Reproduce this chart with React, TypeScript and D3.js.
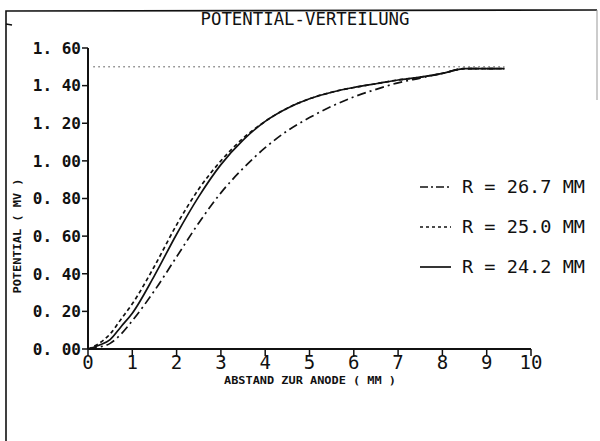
import React from "react";
import * as d3 from "d3";

// abscissa (mm) and potential values (mV)
const distance = [0, 0.25, 0.5, 0.75, 1, 1.5, 2, 2.5, 3, 3.5, 4, 4.5, 5, 5.5, 6, 6.5, 7, 7.5, 8, 8.5, 9, 9.4];
const r267 = [0, 0.01, 0.03, 0.08, 0.15, 0.31, 0.49, 0.67, 0.83, 0.96, 1.07, 1.16, 1.23, 1.29, 1.34, 1.38, 1.415, 1.44, 1.465, 1.49, 1.49, 1.49];
const r250 = [0, 0.03, 0.08, 0.16, 0.24, 0.44, 0.66, 0.85, 1.0, 1.12, 1.21, 1.28, 1.33, 1.365, 1.39, 1.41, 1.43, 1.445, 1.465, 1.49, 1.49, 1.49];
const r242 = [0, 0.02, 0.05, 0.12, 0.19, 0.39, 0.61, 0.81, 0.98, 1.11, 1.21, 1.28, 1.33, 1.365, 1.39, 1.41, 1.43, 1.445, 1.465, 1.49, 1.49, 1.49];
const plateau = 1.5;

const xTicks = [0, 1, 2, 3, 4, 5, 6, 7, 8, 9, 10];
const yTicks = [0, 0.2, 0.4, 0.6, 0.8, 1.0, 1.2, 1.4, 1.6];
const legendLabels = ["R = 26.7 MM", "R = 25.0 MM", "R = 24.2 MM"];

const W = 600, H = 441;
const FONT = "'DejaVu Sans Mono', 'Liberation Mono', monospace";

export default function App() {
  const x = d3.scaleLinear().domain([0, 10]).range([88, 531]);
  const y = d3.scaleLinear().domain([0, 1.6]).range([349, 48]);

  const line = d3.line<number>()
    .x((d, i) => x(distance[i]))
    .y(d => y(d))
    .curve(d3.curveMonotoneX);

  const series = [
    { values: r267, dash: "9 4 2 4", legendDash: "8 3 2 3", label: legendLabels[0] },
    { values: r250, dash: "4 3", legendDash: "3 3", label: legendLabels[1] },
    { values: r242, dash: null, legendDash: null, label: legendLabels[2] },
  ];

  const legendY = [187, 227, 267];

  return (
    <div style={{ position: "absolute", left: 0, top: 0 }}>
      <svg width={W} height={H} style={{ display: "block", background: "#fff" }}>
        {/* frame */}
        <path d="M6,441 L6,11 L597,10" fill="none" stroke="#111" strokeWidth={1.6} />
        <path d="M597,10 L597,100" fill="none" stroke="#999" strokeWidth={1} />
        <path d="M6,24 L12,25" stroke="#111" strokeWidth={1.4} />

        <text x={305} y={25} textAnchor="middle" fontFamily={FONT} fontSize={17}
          textLength={209} lengthAdjust="spacingAndGlyphs" fill="#111">POTENTIAL-VERTEILUNG</text>

        {/* y axis */}
        <line x1={x(0)} x2={x(0)} y1={y(1.6)} y2={y(0)} stroke="#111" strokeWidth={2} />
        {yTicks.map(t => (
          <g key={t}>
            <line x1={x(0) - 6} x2={x(0)} y1={y(t)} y2={y(t)} stroke="#111" strokeWidth={1.5} />
            <text x={x(0) - 7} y={y(t)} dy="0.36em" textAnchor="end" fontFamily={FONT}
              fontSize={16} fontWeight="bold" fill="#111">{d3.format(".2f")(t).replace(".", ". ")}</text>
          </g>
        ))}

        {/* x axis */}
        <line x1={x(0)} x2={x(10)} y1={y(0)} y2={y(0)} stroke="#111" strokeWidth={2} />
        {xTicks.map(t => (
          <g key={t}>
            <line x1={x(t)} x2={x(t)} y1={y(0)} y2={y(0) + 7} stroke="#111" strokeWidth={1.5} />
            <text x={x(t)} y={y(0) + 20} textAnchor="middle" fontFamily={FONT}
              fontSize={19} fill="#111">{t}</text>
          </g>
        ))}

        <text x={310} y={384} textAnchor="middle" fontFamily={FONT} fontSize={10.5} fontWeight="bold"
          textLength={172} lengthAdjust="spacingAndGlyphs" fill="#111">ABSTAND ZUR ANODE ( MM )</text>
        <text transform="translate(21,236) rotate(-90)" textAnchor="middle" fontFamily={FONT}
          fontSize={10.5} fontWeight="bold" textLength={115} lengthAdjust="spacingAndGlyphs"
          fill="#111">POTENTIAL ( MV )</text>

        {/* plateau reference */}
        <line x1={x(0.12)} x2={x(9.4)} y1={y(plateau)} y2={y(plateau)} stroke="#444"
          strokeWidth={1} strokeDasharray="1.5 3.5" />

        {series.map((s, i) => (
          <path key={i} d={line(s.values) || ""} fill="none" stroke="#111" strokeWidth={1.7}
            strokeDasharray={s.dash || undefined} />
        ))}

        {/* legend */}
        {series.map((s, i) => (
          <g key={"lg" + i}>
            <line x1={420} x2={451} y1={legendY[i]} y2={legendY[i]} stroke="#111" strokeWidth={1.7}
              strokeDasharray={s.legendDash || undefined} />
            <text x={462} y={legendY[i]} dy="0.36em" fontFamily={FONT} fontSize={18}
              textLength={123} lengthAdjust="spacingAndGlyphs" fill="#111">{s.label}</text>
          </g>
        ))}
      </svg>
    </div>
  );
}
